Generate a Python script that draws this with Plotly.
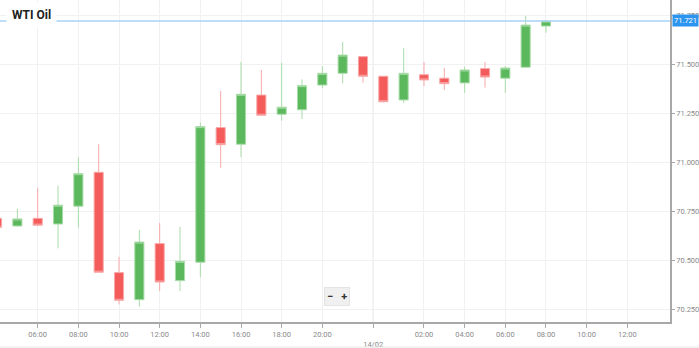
import plotly.graph_objects as go

# ---- data (hourly candles, UTC) ----
times = ["13/02 04:00", "13/02 05:00", "13/02 06:00", "13/02 07:00", "13/02 08:00",
         "13/02 09:00", "13/02 10:00", "13/02 11:00", "13/02 12:00", "13/02 13:00",
         "13/02 14:00", "13/02 15:00", "13/02 16:00", "13/02 17:00", "13/02 18:00",
         "13/02 19:00", "13/02 20:00", "13/02 21:00", "13/02 23:00", "14/02 00:00",
         "14/02 01:00", "14/02 02:00", "14/02 03:00", "14/02 04:00", "14/02 05:00",
         "14/02 06:00", "14/02 07:00", "14/02 08:00"]
future_times = ["14/02 09:00", "14/02 10:00", "14/02 11:00", "14/02 12:00", "14/02 13:00"]

opens  = [70.714, 70.675, 70.714, 70.685, 70.776, 70.949, 70.437, 70.299, 70.585, 70.396,
          70.490, 71.177, 71.092, 71.343, 71.245, 71.268, 71.394, 71.454, 71.539, 71.439,
          71.318, 71.447, 71.429, 71.405, 71.478, 71.429, 71.485, 71.695]
highs  = [70.720, 70.762, 70.870, 70.881, 71.025, 71.092, 70.518, 70.655, 70.690, 70.671,
          71.202, 71.364, 71.513, 71.471, 71.508, 71.423, 71.491, 71.614, 71.540, 71.440,
          71.582, 71.512, 71.481, 71.488, 71.512, 71.491, 71.748, 71.722]
lows   = [70.660, 70.672, 70.675, 70.561, 70.666, 70.437, 70.275, 70.263, 70.343, 70.343,
          70.413, 70.972, 71.026, 71.240, 71.212, 71.221, 71.378, 71.403, 71.406, 71.305,
          71.303, 71.389, 71.369, 71.354, 71.381, 71.354, 71.485, 71.661]
closes = [70.668, 70.711, 70.679, 70.781, 70.942, 70.439, 70.296, 70.593, 70.389, 70.495,
          71.182, 71.090, 71.347, 71.240, 71.281, 71.391, 71.454, 71.547, 71.439, 71.309,
          71.454, 71.420, 71.401, 71.471, 71.435, 71.481, 71.700, 71.721]

last_price = 71.721
title = "WTI Oil"
tick_times = ["13/02 06:00", "13/02 08:00", "13/02 10:00", "13/02 12:00", "13/02 14:00",
              "13/02 16:00", "13/02 18:00", "13/02 20:00", "14/02 02:00", "14/02 04:00",
              "14/02 06:00", "14/02 08:00", "14/02 10:00", "14/02 12:00"]
date_label = "14/02"
y_ticks = [70.25, 70.5, 70.75, 71.0, 71.25, 71.5, 71.75]

slots = times + future_times
xs = list(range(len(times)))
tickvals = [slots.index(t) for t in tick_times]
ticktext = [t.split(" ")[1] for t in tick_times]
# day boundary sits between the 23:00 and 00:00 candles
date_pos = (slots.index("13/02 23:00") + slots.index("14/02 00:00")) / 2
tickvals.append(date_pos)
ticktext.append(" <br>" + date_label)

GREEN = "#5cb85c"
RED = "#f45b5b"

fig = go.Figure()
fig.add_trace(go.Candlestick(
    x=xs, open=opens, high=highs, low=lows, close=closes,
    increasing=dict(fillcolor=GREEN, line=dict(color="#a9dca9", width=1)),
    decreasing=dict(fillcolor=RED, line=dict(color="#f9a9a9", width=1)),
    whiskerwidth=0, showlegend=False, hoverinfo="none",
))

fig.update_layout(
    width=699, height=348,
    margin=dict(l=0, r=29, t=0, b=26),
    paper_bgcolor="white", plot_bgcolor="white",
    boxgap=0.36,
    font=dict(family="Roboto", size=7.5, color="#8a8a8a"),
    xaxis=dict(
        range=[0.146, 33.1], rangeslider=dict(visible=False),
        tickmode="array", tickvals=tickvals, ticktext=ticktext,
        showgrid=True, gridcolor="#f1f1f1", gridwidth=1,
        showline=True, linecolor="#a8a8a8", linewidth=1.5,
        ticks="outside", ticklen=4, tickcolor="#a8a8a8",
        zeroline=False, fixedrange=True,
    ),
    yaxis=dict(
        range=[70.185, 71.828], side="right",
        tickmode="array", tickvals=y_ticks, ticktext=[f"{v:.3f}" for v in y_ticks],
        showgrid=True, gridcolor="#f1f1f1", gridwidth=1,
        showline=True, linecolor="#a8a8a8", linewidth=1.5,
        ticks="outside", ticklen=3, tickcolor="#a8a8a8",
        zeroline=False, fixedrange=True,
    ),
)

# day separator line
fig.add_shape(type="line", xref="x", yref="paper", x0=date_pos, x1=date_pos, y0=0, y1=1,
              line=dict(color="#e2e2e2", width=1), layer="below")

# last price line and label
fig.add_shape(type="line", xref="paper", yref="y", x0=0, x1=1, y0=last_price, y1=last_price,
              line=dict(color="#a8d3f5", width=1.5))
fig.add_annotation(xref="paper", yref="y", x=1.003, y=last_price, xanchor="left", yanchor="middle",
                   text=f"{last_price:.3f}", showarrow=False,
                   font=dict(family="Roboto", size=7.5, color="white"),
                   bgcolor="#2b95f0", borderpad=1)

# title with white backing
fig.add_annotation(xref="paper", yref="paper", x=6 / 670, y=1 - 15 / 322, xanchor="left", yanchor="middle",
                   text="<b>" + title + "</b>", showarrow=False,
                   font=dict(family="Roboto", size=12, color="#222222"),
                   bgcolor="white", borderpad=5)

# zoom control
fig.add_annotation(xref="paper", yref="paper", x=337 / 670, y=1 - 296 / 322, xanchor="center", yanchor="middle",
                   text="<b>−</b>   <b>+</b>", showarrow=False,
                   font=dict(family="Roboto", size=11, color="#333333"),
                   bgcolor="#f0f0f0", bordercolor="#e4e4e4", borderwidth=1, borderpad=2)

# bottom border
fig.add_shape(type="line", xref="paper", yref="paper", x0=0, x1=699 / 670, y0=-25 / 322, y1=-25 / 322,
              line=dict(color="#e6e6e6", width=1))

fig.write_html("out.html")
